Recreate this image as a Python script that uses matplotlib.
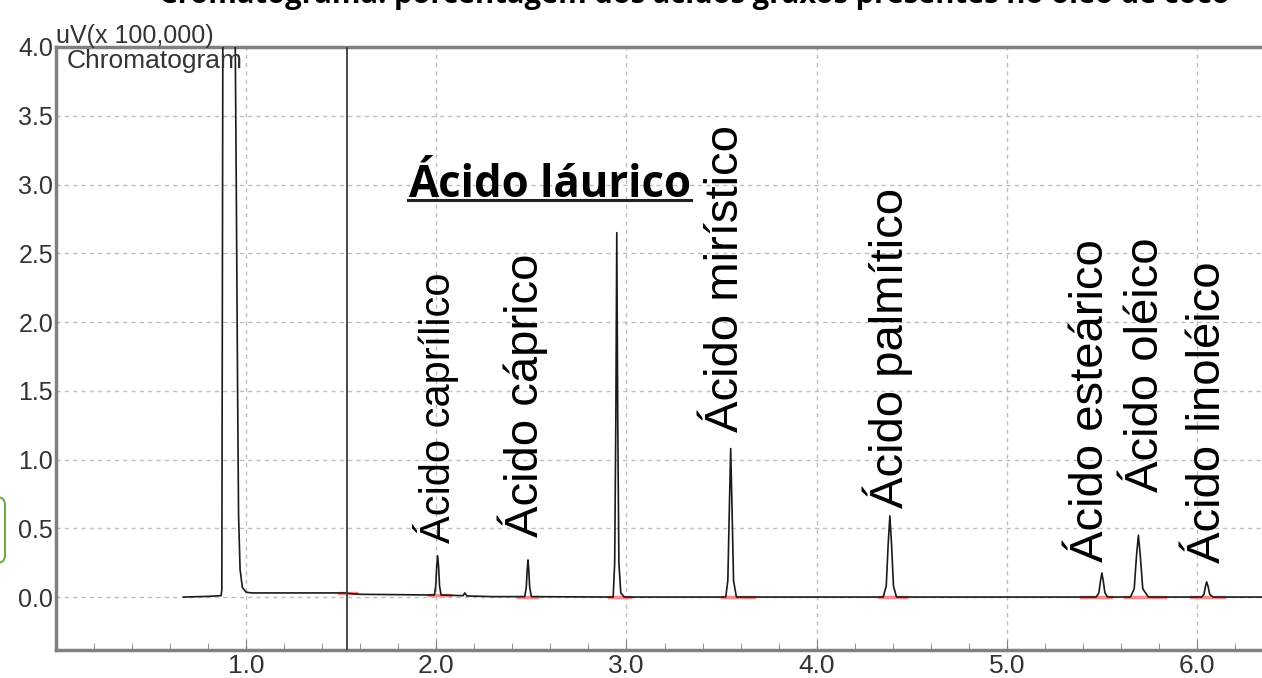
import matplotlib
matplotlib.use("Agg")
import matplotlib.pyplot as plt
from matplotlib.patches import FancyBboxPatch
from matplotlib.lines import Line2D
from matplotlib.transforms import IdentityTransform
import numpy as np

# chromatogram trace (retention time in min, signal in uV x 100,000)
trace_x = [0.67, 0.80, 0.868, 0.872, 0.878, 0.94, 0.948, 0.955, 0.960, 0.968, 0.98, 1.00, 1.03,
           1.52, 1.55, 1.60, 1.98,
           1.990, 1.997, 2.002, 2.007, 2.012, 2.017, 2.025,
           2.14, 2.15, 2.16, 2.30,
           2.465, 2.473, 2.478, 2.482, 2.486, 2.491, 2.500,
           2.930, 2.938, 2.944, 2.949, 2.954, 2.960, 2.970, 2.988,
           3.522, 3.533, 3.541, 3.548, 3.555, 3.563, 3.578,
           4.350, 4.366, 4.376, 4.385, 4.394, 4.404, 4.420,
           5.470, 5.484, 5.493, 5.500, 5.507, 5.516, 5.530,
           5.650, 5.670, 5.682, 5.692, 5.702, 5.715, 5.745,
           6.025, 6.037, 6.045, 6.051, 6.058, 6.067, 6.085, 6.342]
trace_y = [0.0, 0.005, 0.01, 0.05, 4.5, 4.5, 3.0, 1.5, 0.6, 0.2, 0.07, 0.035, 0.03,
           0.03, 0.025, 0.02, 0.015,
           0.015, 0.08, 0.22, 0.30, 0.22, 0.08, 0.015,
           0.01, 0.03, 0.008, 0.003,
           0.003, 0.07, 0.20, 0.27, 0.20, 0.07, 0.003,
           0.0, 0.25, 1.3, 2.65, 1.3, 0.25, 0.03, 0.0,
           0.0, 0.12, 0.65, 1.08, 0.65, 0.12, 0.0,
           0.0, 0.08, 0.38, 0.59, 0.38, 0.08, 0.0,
           0.0, 0.03, 0.12, 0.175, 0.12, 0.03, 0.0,
           0.0, 0.06, 0.30, 0.45, 0.30, 0.06, 0.0,
           0.0, 0.02, 0.08, 0.11, 0.08, 0.02, 0.0, 0.0]

# integration baselines (red)
base_start = [1.49, 1.96, 2.43, 2.91, 3.50, 4.33, 5.39, 5.62, 5.97]
base_end = [1.575, 2.07, 2.53, 3.02, 3.67, 4.47, 5.55, 5.83, 6.14]
base_level = [0.03, 0.015, 0.003, 0.0, 0.0, 0.0, 0.0, 0.0, 0.0]

peak_names = ["Ácido caprílico", "Ácido cáprico", "Ácido mirístico", "Ácido palmítico",
              "Ácido esteárico", "Ácido oléico", "Ácido linoléico"]
label_x = [2.071, 2.534, 3.586, 4.453, 5.505, 5.794, 6.120]   # baseline position
label_y = [0.393, 0.436, 1.200, 0.647, 0.255, 0.764, 0.247]   # start of text
label_size = [30, 34, 34, 34, 34, 34, 34]

lauric_label = "Ácido láurico"
lauric_x, lauric_y = 1.850, 2.91

marker_line_x = 1.53
xticks = [1.0, 2.0, 3.0, 4.0, 5.0, 6.0]
yticks = [0.0, 0.5, 1.0, 1.5, 2.0, 2.5, 3.0, 3.5, 4.0]

narrow = ["Liberation Sans Narrow", "Liberation Sans", "DejaVu Sans"]
label_font = ["Liberation Sans", "DejaVu Sans"]
bold_font = ["Open Sans", "DejaVu Sans"]
gray = "#808080"

fig = plt.figure(figsize=(12.62, 6.78), dpi=100)
ax = fig.add_axes([56 / 1262, 28 / 678, 1 - 56 / 1262, 603 / 678])

ax.set_xlim(0, 6.342)
ax.set_ylim(-0.385, 4.0)

ax.grid(True, color="#bdbdbd", linestyle=(0, (3, 3)), linewidth=1.0)
ax.set_axisbelow(True)

ax.plot(trace_x, trace_y, color="#1a1a1a", linewidth=1.2, zorder=3)
for s, e, lv in zip(base_start, base_end, base_level):
    ax.plot([s, e], [lv, lv], color="#ff8a8a", linewidth=2.5, zorder=2.5)
ax.axvline(marker_line_x, color="#3a3a3a", linewidth=1.3, zorder=3)

for name, x, y, fs in zip(peak_names, label_x, label_y, label_size):
    ax.text(x, y, name, rotation=90, rotation_mode="anchor", ha="left", va="baseline",
            fontsize=fs, family=label_font, color="black", zorder=4)

t = ax.text(lauric_x, lauric_y, lauric_label, ha="left", va="baseline",
            fontsize=31.5, fontweight="bold", family=bold_font, zorder=4)

ax.text(0.055, 3.985, "Chromatogram", ha="left", va="top", fontsize=19,
        family=narrow, color="#333333")
fig.text(56 / 1262, 1 - 43 / 678, "uV(x 100,000)", ha="left", va="baseline",
         fontsize=18, family=narrow, color="#333333")

# cut-off title at the top edge
fig.text(0.55, 1 - 3 / 678,
         "Cromatograma: porcentagem dos ácidos graxos presentes no óleo de coco",
         ha="center", va="baseline", fontsize=21, fontweight="bold", family=bold_font)

ax.set_xticks(xticks)
ax.set_xticklabels([f"{v:.1f}" for v in xticks])
ax.set_xticks(np.arange(0.2, 6.4, 0.2), minor=True)
ax.set_yticks(yticks)
ax.set_yticklabels([f"{v:.1f}" for v in yticks])
ax.tick_params(axis="x", which="major", direction="in", length=7, color=gray,
               labelsize=19, labelcolor="#333333", pad=3)
ax.tick_params(axis="x", which="minor", direction="in", length=5, color=gray)
ax.tick_params(axis="y", length=0, labelsize=18, labelcolor="#333333", pad=2)
for lab in ax.get_xticklabels() + ax.get_yticklabels():
    lab.set_family(narrow)

for side in ["left", "bottom", "top"]:
    ax.spines[side].set_color(gray)
    ax.spines[side].set_linewidth(2.5)
ax.spines["right"].set_visible(False)

# underline for the lauric acid label, just under its baseline
fig.canvas.draw()
bb = t.get_window_extent()
base_px = ax.transData.transform((lauric_x, lauric_y))[1]
fig.add_artist(Line2D([bb.x0, bb.x1], [base_px - 3, base_px - 3], transform=IdentityTransform(),
                      color="#222222", linewidth=2.2))

# green box edge at far left
fig.add_artist(FancyBboxPatch((-20, 115), 25, 66, boxstyle="round,pad=0,rounding_size=8",
                              transform=IdentityTransform(), facecolor="none",
                              edgecolor="#70ad47", linewidth=1.5))

fig.savefig("out.png", dpi=100)
